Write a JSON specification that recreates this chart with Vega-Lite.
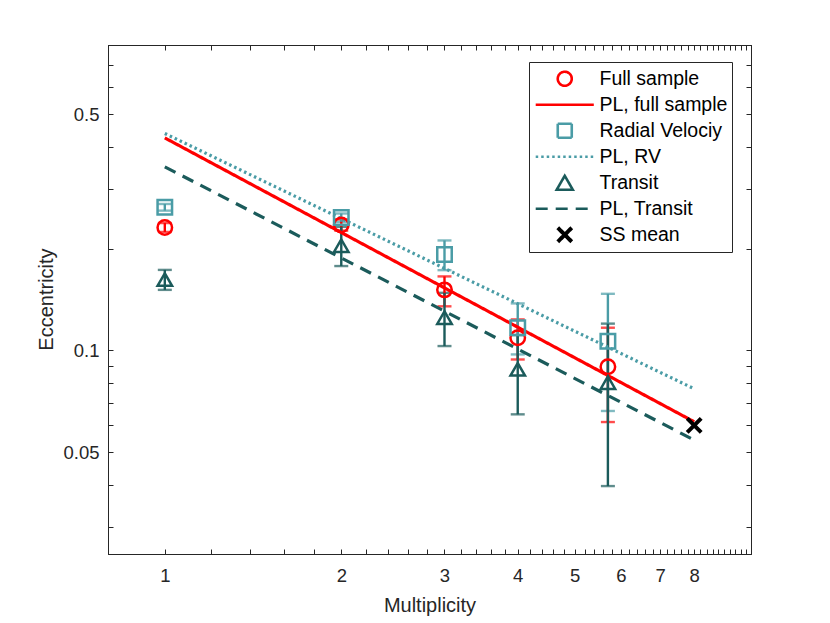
{
  "$schema": "https://vega.github.io/schema/vega-lite/v6.json",
  "width": 643,
  "height": 509,
  "autosize": {"type": "none"},
  "padding": {"left": 108, "top": 45, "right": 79, "bottom": 69},
  "background": "white",
  "datasets": {
    "pts": [
      {"series": "Full sample", "m": 1, "e": 0.231, "lo": 0.224, "hi": 0.238},
      {"series": "Full sample", "m": 2, "e": 0.235, "lo": 0.226, "hi": 0.244},
      {"series": "Full sample", "m": 3, "e": 0.151, "lo": 0.135, "hi": 0.1655},
      {"series": "Full sample", "m": 4, "e": 0.109, "lo": 0.094, "hi": 0.1235},
      {"series": "Full sample", "m": 5.7, "e": 0.0895, "lo": 0.0614, "hi": 0.1167},
      {"series": "Radial Velociy", "m": 1, "e": 0.265, "lo": 0.259, "hi": 0.271},
      {"series": "Radial Velociy", "m": 2, "e": 0.247, "lo": 0.24, "hi": 0.254},
      {"series": "Radial Velociy", "m": 3, "e": 0.192, "lo": 0.1727, "hi": 0.2114},
      {"series": "Radial Velociy", "m": 4, "e": 0.1167, "lo": 0.0973, "hi": 0.1377},
      {"series": "Radial Velociy", "m": 5.7, "e": 0.1065, "lo": 0.0662, "hi": 0.147},
      {"series": "Transit", "m": 1, "e": 0.162, "lo": 0.151, "hi": 0.173},
      {"series": "Transit", "m": 2, "e": 0.204, "lo": 0.1776, "hi": 0.232},
      {"series": "Transit", "m": 3, "e": 0.125, "lo": 0.103, "hi": 0.148},
      {"series": "Transit", "m": 4, "e": 0.0879, "lo": 0.0647, "hi": 0.111},
      {"series": "Transit", "m": 5.7, "e": 0.0803, "lo": 0.0397, "hi": 0.12}
    ],
    "lines": [
      {"series": "PL, full sample", "m": 1, "e": 0.425},
      {"series": "PL, full sample", "m": 8, "e": 0.0615},
      {"series": "PL, RV", "m": 1, "e": 0.438},
      {"series": "PL, RV", "m": 8, "e": 0.077},
      {"series": "PL, Transit", "m": 1, "e": 0.349},
      {"series": "PL, Transit", "m": 8, "e": 0.0543}
    ],
    "ss": [
      {"series": "SS mean", "m": 8, "e": 0.06}
    ]
  },
  "config": {
    "view": {"stroke": "#262626", "strokeWidth": 1},
    "font": "Liberation Sans",
    "axis": {
      "grid": false,
      "domainColor": "#262626",
      "tickColor": "#262626",
      "labelColor": "#262626",
      "titleColor": "#262626",
      "labelFont": "Liberation Sans",
      "titleFont": "Liberation Sans",
      "labelFontSize": 18.5,
      "titleFontSize": 20,
      "titleFontWeight": "normal",
      "tickSize": -5,
      "labelOverlap": false,
      "labelFlush": false
    },
    "legend": {
      "padding": 4,
      "strokeColor": "#262626",
      "fillColor": "white",
      "cornerRadius": 0,
      "labelFont": "Liberation Sans",
      "labelFontSize": 19.5,
      "labelColor": "#000000",
      "rowPadding": 0,
      "symbolSize": 196,
      "symbolStrokeWidth": 2.5,
      "labelLimit": 300
    }
  },
  "resolve": {"axis": {"x": "independent", "y": "independent"}},
  "layer": [
    {
      "data": {"name": "pts"},
      "mark": {"type": "errorbar", "ticks": true, "size": 14, "thickness": 2.4},
      "encoding": {
        "x": {"field": "m", "type": "quantitative", "scale": {"type": "log", "domain": [0.8, 10], "nice": false}, "axis": null},
        "y": {"field": "lo", "type": "quantitative", "scale": {"type": "log", "domain": [0.025, 0.8], "nice": false}, "axis": null},
        "y2": {"field": "hi"},
        "color": {"field": "series", "type": "nominal", "title": null,
          "scale": {"domain": ["Full sample", "PL, full sample", "Radial Velociy", "PL, RV", "Transit", "PL, Transit", "SS mean"],
                    "range": ["#ff0000", "#ff0000", "#4a9ca6", "#4a9ca6", "#1b5b5b", "#1b5b5b", "#000000"]}}
      }
    },
    {
      "data": {"name": "lines"},
      "mark": {"type": "line", "strokeWidth": 3.2},
      "encoding": {
        "x": {"field": "m", "type": "quantitative", "scale": {"type": "log", "domain": [0.8, 10], "nice": false},
          "axis": {"orient": "bottom", "title": "Multiplicity", "titleX": 321.5, "titleY": 51, "titleBaseline": "middle", "labelPadding": 17,
            "values": [0.8, 1, 1.2, 1.4, 1.6, 1.8, 2, 2.2, 2.4, 2.6, 2.8, 3, 3.2, 3.4, 3.6, 3.8, 4, 4.2, 4.4, 4.6, 4.8, 5, 5.2, 5.4, 5.6, 5.8, 6, 6.2, 6.4, 6.6, 6.8, 7, 7.2, 7.4, 7.6, 7.8, 8, 8.2, 8.4, 8.6, 8.8, 9, 9.2, 9.4, 9.6, 9.8, 10],
            "labelExpr": "(datum.value == 1 || datum.value == 2 || datum.value == 3 || datum.value == 4 || datum.value == 5 || datum.value == 6 || datum.value == 7 || datum.value == 8) ? '' + datum.value : ''"}},
        "y": {"field": "e", "type": "quantitative", "scale": {"type": "log", "domain": [0.025, 0.8], "nice": false},
          "axis": {"orient": "left", "title": "Eccentricity", "titleX": -62, "titleY": 254, "titleBaseline": "middle", "labelPadding": 14,
            "values": [0.03, 0.04, 0.05, 0.06, 0.07, 0.08, 0.09, 0.1, 0.2, 0.3, 0.4, 0.5, 0.6, 0.7, 0.8],
            "labelExpr": "datum.value == 0.05 ? '0.05' : datum.value == 0.1 ? '0.1' : datum.value == 0.5 ? '0.5' : ''"}},
        "color": {"field": "series", "type": "nominal", "title": null,
          "legend": {"orient": "none", "legendX": 421, "legendY": 17, "clipHeight": 25.5, "symbolOffset": 22, "labelOffset": 25,
            "encode": {"symbols": {"update": {"fill": {"value": "transparent"}, "opacity": {"value": 1}, "fillOpacity": {"value": 0}, "strokeOpacity": {"value": 1},
              "size": {"signal": "datum.value == 'Transit' ? 260 : 196"},
              "strokeWidth": {"signal": "datum.value == 'SS mean' ? 4 : 2.6"}}}}},
          "scale": {"domain": ["Full sample", "PL, full sample", "Radial Velociy", "PL, RV", "Transit", "PL, Transit", "SS mean"],
                    "range": ["#ff0000", "#ff0000", "#4a9ca6", "#4a9ca6", "#1b5b5b", "#1b5b5b", "#000000"]}},
        "strokeDash": {"field": "series", "type": "nominal", "title": null,
          "scale": {"domain": ["Full sample", "PL, full sample", "Radial Velociy", "PL, RV", "Transit", "PL, Transit", "SS mean"],
                    "range": [[1, 0], [1, 0], [1, 0], [2.5, 3], [1, 0], [12, 8], [1, 0]]}}
      }
    },
    {
      "data": {"name": "pts"},
      "mark": {"type": "point", "filled": false, "size": 210, "strokeWidth": 2.5, "opacity": 1},
      "encoding": {
        "x": {"field": "m", "type": "quantitative", "scale": {"type": "log", "domain": [0.8, 10], "nice": false},
          "axis": {"orient": "top", "labels": false, "title": null,
            "values": [0.8, 1, 1.2, 1.4, 1.6, 1.8, 2, 2.2, 2.4, 2.6, 2.8, 3, 3.2, 3.4, 3.6, 3.8, 4, 4.2, 4.4, 4.6, 4.8, 5, 5.2, 5.4, 5.6, 5.8, 6, 6.2, 6.4, 6.6, 6.8, 7, 7.2, 7.4, 7.6, 7.8, 8, 8.2, 8.4, 8.6, 8.8, 9, 9.2, 9.4, 9.6, 9.8, 10]}},
        "y": {"field": "e", "type": "quantitative", "scale": {"type": "log", "domain": [0.025, 0.8], "nice": false},
          "axis": {"orient": "right", "labels": false, "title": null,
            "values": [0.03, 0.04, 0.05, 0.06, 0.07, 0.08, 0.09, 0.1, 0.2, 0.3, 0.4, 0.5, 0.6, 0.7, 0.8]}},
        "color": {"field": "series", "type": "nominal", "title": null,
          "scale": {"domain": ["Full sample", "PL, full sample", "Radial Velociy", "PL, RV", "Transit", "PL, Transit", "SS mean"],
                    "range": ["#ff0000", "#ff0000", "#4a9ca6", "#4a9ca6", "#1b5b5b", "#1b5b5b", "#000000"]}},
        "shape": {"field": "series", "type": "nominal", "title": null,
          "scale": {"domain": ["Full sample", "PL, full sample", "Radial Velociy", "PL, RV", "Transit", "PL, Transit", "SS mean"],
                    "range": ["circle", "M-4.15,0L4.15,0", "square", "M-4.15,0L4.15,0", "triangle-up", "M-4.15,0L4.15,0", "M-1,-1L1,1M-1,1L1,-1"]}}
      }
    },
    {
      "data": {"name": "ss"},
      "mark": {"type": "point", "filled": false, "size": 196, "strokeWidth": 4, "opacity": 1},
      "encoding": {
        "x": {"field": "m", "type": "quantitative", "scale": {"type": "log", "domain": [0.8, 10], "nice": false}, "axis": null},
        "y": {"field": "e", "type": "quantitative", "scale": {"type": "log", "domain": [0.025, 0.8], "nice": false}, "axis": null},
        "color": {"field": "series", "type": "nominal", "title": null,
          "scale": {"domain": ["Full sample", "PL, full sample", "Radial Velociy", "PL, RV", "Transit", "PL, Transit", "SS mean"],
                    "range": ["#ff0000", "#ff0000", "#4a9ca6", "#4a9ca6", "#1b5b5b", "#1b5b5b", "#000000"]}},
        "shape": {"field": "series", "type": "nominal", "title": null,
          "scale": {"domain": ["Full sample", "PL, full sample", "Radial Velociy", "PL, RV", "Transit", "PL, Transit", "SS mean"],
                    "range": ["circle", "M-4.15,0L4.15,0", "square", "M-4.15,0L4.15,0", "triangle-up", "M-4.15,0L4.15,0", "M-1,-1L1,1M-1,1L1,-1"]}}
      }
    }
  ]
}
